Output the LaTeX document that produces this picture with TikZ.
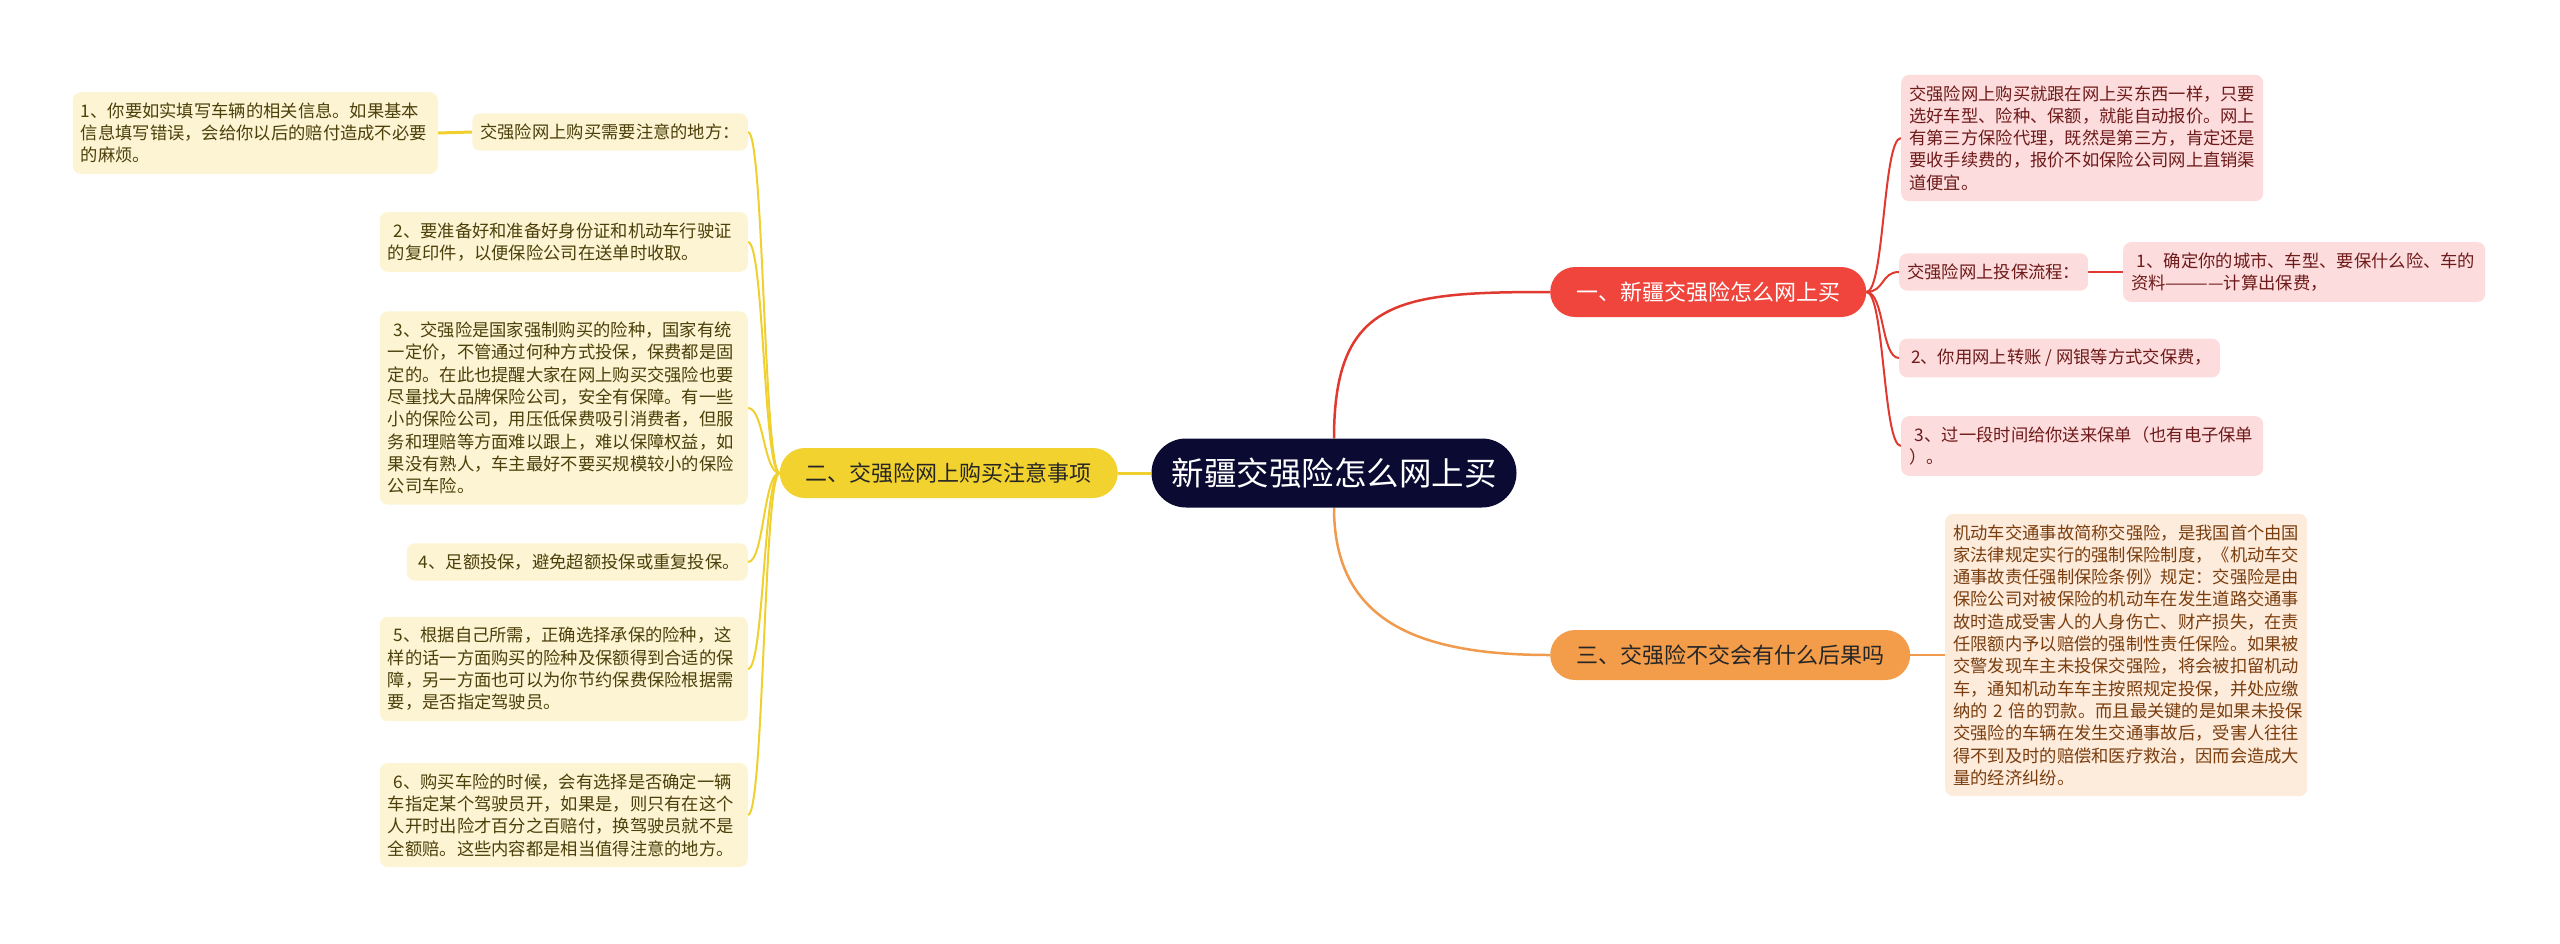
\documentclass[tikz,border=0pt]{standalone}
\usepackage{fontspec}
\newfontfamily\cjk{Noto Sans CJK SC}
\usepackage{tikz}
\usetikzlibrary{positioning, backgrounds}
\definecolor{RootNavy}{HTML}{0A0A32}
\definecolor{BuyRed}{HTML}{F0453C}
\definecolor{TipsYellow}{HTML}{F2D22E}
\definecolor{FineOrange}{HTML}{F39C4A}
\definecolor{PinkFill}{HTML}{FCDCDC}
\definecolor{PinkText}{HTML}{6E1A1A}
\definecolor{CreamFill}{HTML}{FCF4D2}
\definecolor{CreamText}{HTML}{4B3F0A}
\definecolor{PeachFill}{HTML}{FDEBDC}
\definecolor{PeachText}{HTML}{7A3E0E}
\definecolor{LineRed}{HTML}{E0392F}
\definecolor{LineYellow}{HTML}{EFD02E}
\definecolor{LineOrange}{HTML}{EF9A4C}

\begin{document}
\begin{tikzpicture}[x=1pt, y=-1pt,
  mainbox/.style={fill=RootNavy, text=white, rounded corners=34.5pt, minimum height=69pt, minimum width=365pt, font=\cjk\fontsize{32.5}{36}\selectfont},
  branchbox/.style={rounded corners=25pt, minimum height=50pt, inner xsep=26pt, font=\cjk\fontsize{22}{26}\selectfont},
  leafbox/.style={rounded corners=8pt, inner xsep=8pt, inner ysep=10.5pt, align=left, font=\cjk\fontsize{17.3}{22.3}\selectfont},
  pinkbox/.style={leafbox, fill=PinkFill, text=PinkText},
  creambox/.style={leafbox, fill=CreamFill, text=CreamText},
  peachbox/.style={leafbox, fill=PeachFill, text=PeachText}]
  \useasboundingbox (0,0) rectangle (2560,943);
  % Centre
  \node[mainbox] (root) at (1334,473) {新疆交强险怎么网上买};
  % Branches
  \node[branchbox, fill=BuyRed, text=white, anchor=west] (buy) at (1550,292) {一、新疆交强险怎么网上买};
  \node[branchbox, fill=TipsYellow, text=black!85, anchor=east] (tips) at (1118,473) {二、交强险网上购买注意事项};
  \node[branchbox, fill=FineOrange, text=black!85, anchor=west] (fine) at (1550,655) {三、交强险不交会有什么后果吗};
  % Buy: leaves
  \node[pinkbox, anchor=west, text width=346pt] (buyA) at (1901,138) {交强险网上购买就跟在网上买东西一样，只要\\选好车型、险种、保额，就能自动报价。网上\\有第三方保险代理，既然是第三方，肯定还是\\要收手续费的，报价不如保险公司网上直销渠\\道便宜。};
  \node[pinkbox, anchor=west] (flow) at (1899,272) {交强险网上投保流程：};
  \node[pinkbox, anchor=west, text width=346pt] (flowA) at (2123,272) {\ 1、确定你的城市、车型、要保什么险、车的\\资料————计算出保费，};
  \node[pinkbox, anchor=west] (buyB) at (1899,358) {\ 2、你用网上转账 / 网银等方式交保费，};
  \node[pinkbox, anchor=west, text width=346pt] (buyC) at (1901,446) {\ 3、过一段时间给你送来保单（也有电子保单\\）。};
  % Tips: leaves
  \node[creambox, anchor=east] (note) at (748,132) {交强险网上购买需要注意的地方：};
  \node[creambox, anchor=east, text width=349pt] (noteA) at (438,133) {1、你要如实填写车辆的相关信息。如果基本\\信息填写错误，会给你以后的赔付造成不必要\\的麻烦。};
  \node[creambox, anchor=east, text width=352pt] (tipA) at (748,242) {\ 2、要准备好和准备好身份证和机动车行驶证\\的复印件，以便保险公司在送单时收取。};
  \node[creambox, anchor=east, text width=352pt] (tipB) at (748,408) {\ 3、交强险是国家强制购买的险种，国家有统\\一定价，不管通过何种方式投保，保费都是固\\定的。在此也提醒大家在网上购买交强险也要\\尽量找大品牌保险公司，安全有保障。有一些\\小的保险公司，用压低保费吸引消费者，但服\\务和理赔等方面难以跟上，难以保障权益，如\\果没有熟人，车主最好不要买规模较小的保险\\公司车险。};
  \node[creambox, anchor=east] (tipC) at (748,562) {\ 4、足额投保，避免超额投保或重复投保。};
  \node[creambox, anchor=east, text width=352pt] (tipD) at (748,669) {\ 5、根据自己所需，正确选择承保的险种，这\\样的话一方面购买的险种及保额得到合适的保\\障，另一方面也可以为你节约保费保险根据需\\要，是否指定驾驶员。};
  \node[creambox, anchor=east, text width=352pt] (tipE) at (748,815) {\ 6、购买车险的时候，会有选择是否确定一辆\\车指定某个驾驶员开，如果是，则只有在这个\\人开时出险才百分之百赔付，换驾驶员就不是\\全额赔。这些内容都是相当值得注意的地方。};
  % Fine: leaf
  \node[peachbox, anchor=west, text width=346pt] (fineA) at (1945,655) {机动车交通事故简称交强险，是我国首个由国\\家法律规定实行的强制保险制度，《机动车交\\通事故责任强制保险条例》规定：交强险是由\\保险公司对被保险的机动车在发生道路交通事\\故时造成受害人的人身伤亡、财产损失，在责\\任限额内予以赔偿的强制性责任保险。如果被\\交警发现车主未投保交强险，将会被扣留机动\\车，通知机动车车主按照规定投保，并处应缴\\纳的 2 倍的罚款。而且最关键的是如果未投保\\交强险的车辆在发生交通事故后，受害人往往\\得不到及时的赔偿和医疗救治，因而会造成大\\量的经济纠纷。};
  % Connectors
  \begin{scope}[on background layer]
    \draw[LineRed, line width=2.5pt] (root.north) .. controls +(0,-140) and +(-150,0) .. (buy.west);
    \draw[LineOrange, line width=2.5pt] (root.south) .. controls +(0,115) and +(-130,0) .. (fine.west);
    \draw[LineYellow, line width=3pt] (root.west) -- (tips.east);
    \foreach \leaf in {buyA, flow, buyB, buyC}
      \draw[LineRed, line width=2pt] (buy.east) .. controls +(18,0) and +(-18,0) .. (\leaf.west);
    \draw[LineRed, line width=2.5pt] (flow.east) -- (flowA.west);
    \foreach \leaf in {note, tipA, tipB, tipC, tipD, tipE}
      \draw[LineYellow, line width=2pt] (tips.west) .. controls +(-16,0) and +(16,0) .. (\leaf.east);
    \draw[LineYellow, line width=3pt] (note.west) -- (noteA.east);
    \draw[LineOrange, line width=2.5pt] (fine.east) -- (fineA.west);
  \end{scope}
\end{tikzpicture}
\end{document}
